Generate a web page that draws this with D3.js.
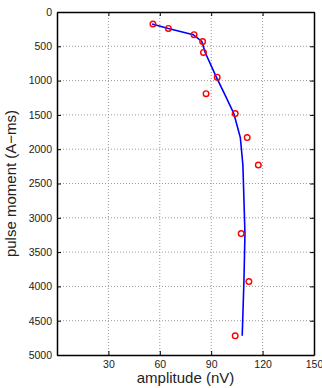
<!DOCTYPE html>
<html>
<head>
<meta charset="utf-8">
<script src="https://d3js.org/d3.v7.min.js"></script>
<style>
  body { margin: 0; background: #fff; }
  text { font-family: "Liberation Sans", Arial, sans-serif; }
</style>
</head>
<body>
<svg id="chart" width="322" height="388"></svg>
<script>
  // pulse moments (A-ms) and measured amplitudes (nV)
  const moments = [175, 240, 330, 430, 590, 950, 1190, 1480, 1830, 2230, 3230, 3930, 4720];
  const measured = [56, 65, 80, 85, 85.5, 93.5, 87, 104, 111, 117.5, 107.5, 112, 104];
  // fitted model response at the same pulse moments
  const fitted = [55.5, 65, 79.5, 84.5, 86.5, 93, 97.7, 103.2, 107, 108.5, 109.7, 109.1, 108.1];
  const xTicks = [30, 60, 90, 120, 150];
  const yTicks = [0, 500, 1000, 1500, 2000, 2500, 3000, 3500, 4000, 4500, 5000];

  const margin = {top: 12, right: 8, bottom: 33, left: 57};
  const svg = d3.select('#chart');
  const width = +svg.attr('width') - margin.left - margin.right;
  const height = +svg.attr('height') - margin.top - margin.bottom;
  const g = svg.append('g').attr('transform', `translate(${margin.left},${margin.top})`);

  const x = d3.scaleLinear().domain([0, 150]).range([0, width]);
  const y = d3.scaleLinear().domain([0, 5000]).range([0, height]);

  // dotted grid
  g.append('g').selectAll('line').data(xTicks.slice(0, -1)).join('line')
    .attr('x1', d => x(d)).attr('x2', d => x(d))
    .attr('y1', 0).attr('y2', height)
    .attr('stroke', '#999').attr('stroke-dasharray', '1,2');
  g.append('g').selectAll('line').data(yTicks.slice(1, -1)).join('line')
    .attr('x1', 0).attr('x2', width)
    .attr('y1', d => y(d)).attr('y2', d => y(d))
    .attr('stroke', '#999').attr('stroke-dasharray', '1,2');

  // axes, ticks pointing inward like matlab
  g.append('g').attr('transform', `translate(0,${height})`)
    .call(d3.axisBottom(x).tickValues(xTicks).tickFormat(d3.format('d'))
      .tickSizeInner(-4).tickSizeOuter(0).tickPadding(6));
  g.append('g')
    .call(d3.axisLeft(y).tickValues(yTicks).tickFormat(d3.format('d'))
      .tickSizeInner(-4).tickSizeOuter(0).tickPadding(5));
  g.append('g')
    .call(d3.axisTop(x).tickValues(xTicks).tickSizeInner(-4).tickSizeOuter(0).tickFormat(''));
  g.append('g').attr('transform', `translate(${width},0)`)
    .call(d3.axisRight(y).tickValues(yTicks).tickSizeInner(-4).tickSizeOuter(0).tickFormat(''));

  g.selectAll('.domain').attr('stroke', '#000').attr('stroke-width', 1.5);
  g.selectAll('.tick line').attr('stroke', '#000');
  g.selectAll('.tick text').attr('font-size', '10.5px').attr('fill', '#222');

  // model curve
  const line = d3.line().x((d, i) => x(fitted[i])).y(d => y(d));
  g.append('path').datum(moments)
    .attr('d', line)
    .attr('fill', 'none').attr('stroke', '#0000ff').attr('stroke-width', 1.6);

  // measurements
  g.append('g').selectAll('circle').data(moments).join('circle')
    .attr('cx', (d, i) => x(measured[i]))
    .attr('cy', d => y(d))
    .attr('r', 2.8)
    .attr('fill', 'none').attr('stroke', '#ff0000').attr('stroke-width', 1.4);

  // labels
  svg.append('text')
    .text('amplitude (nV)')
    .attr('x', margin.left + width / 2).attr('y', 383)
    .attr('text-anchor', 'middle').attr('font-size', '15px').attr('fill', '#222');
  svg.append('text')
    .text('pulse moment (A\u2212ms)')
    .attr('transform', `translate(16,${margin.top + height / 2}) rotate(-90)`)
    .attr('text-anchor', 'middle').attr('font-size', '15px').attr('fill', '#222');
</script>
</body>
</html>
